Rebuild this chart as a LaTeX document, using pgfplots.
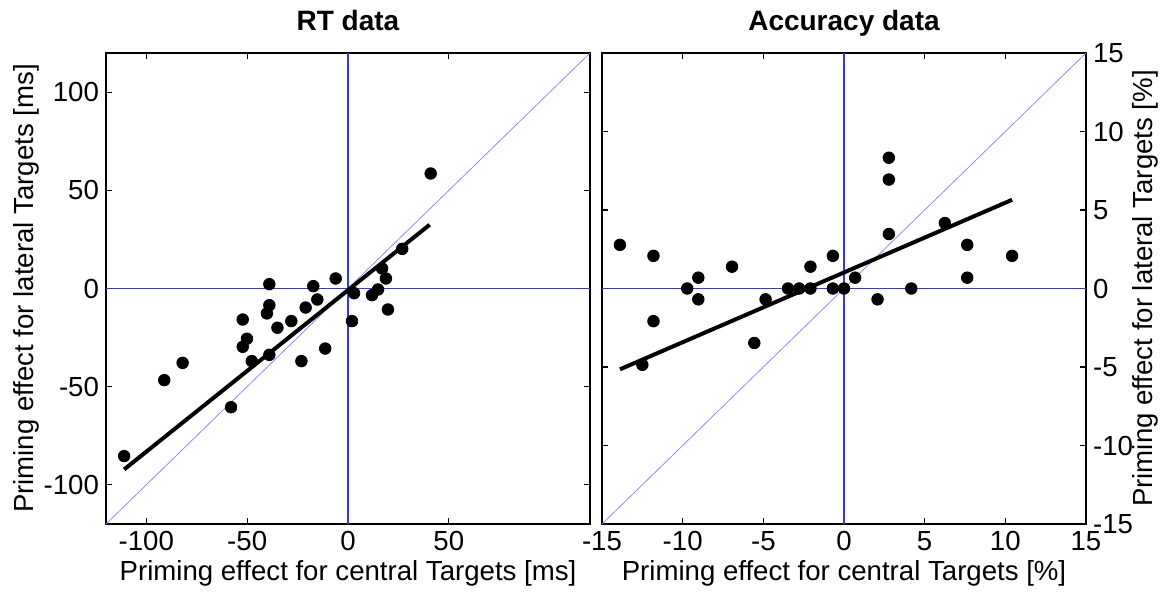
\documentclass[border=0pt]{standalone}
\usepackage{pgfplots}
\pgfplotsset{compat=1.18}
\usepackage{fontspec}
\setmainfont{Liberation Sans}
\pgfplotsset{
  mstyle/.style={
    scale only axis, width=242pt, height=235.5pt,
    axis line style={line width=0.8pt},
    tick style={black, line width=0.6pt},
    major tick length=3pt, tick align=inside,
    /pgf/number format/assume math mode=true,
    font=\fontsize{13.8}{16}\selectfont,
    tick label style={font=\fontsize{13.8}{16}\selectfont},
    label style={font=\fontsize{13.8}{16}\selectfont},
    title style={font=\bfseries\fontsize{14}{16}\selectfont, at={(0.5,1.022)}, anchor=base},
    xlabel style={at={(0.5,-0.121)}, anchor=base},
    clip=true,
  }
}
\pgfplotstableread{
x y
-111 -85.4
-91.1 -46.7
-82 -37.9
-58 -60.5
-52.2 -15.8
-50.1 -25.6
-52.2 -29.7
-47.7 -37
-39 2.2
-39 -8.5
-40.2 -12.7
-35 -20
-39 -33.8
-28.1 -16.6
-23.1 -37
-21 -9.7
-17.2 1.2
-15.2 -5.6
-11.3 -30.6
-6.1 5.1
3 -2.4
2 -16.6
11.9 -3.4
14.9 -0.5
16.9 10.2
18.8 5.1
19.8 -10.7
41 58.6
26.9 20.2
}\rtdata
\pgfplotstableread{
x y
-13.89 2.78
-11.81 2.08
-11.81 -2.08
-12.50 -4.86
-9.72 0
-9.03 0.69
-9.03 -0.69
-6.94 1.39
-5.56 -3.47
-4.86 -0.69
-3.47 0
-2.78 0
-2.08 0
-2.08 1.39
-0.69 2.08
-0.69 0
0 0
0.69 0.69
2.08 -0.69
2.78 8.33
2.78 6.94
2.78 3.47
4.17 0
6.25 4.17
7.64 2.78
7.64 0.69
10.42 2.08
}\accdata
\begin{document}
\begin{tikzpicture}
\useasboundingbox (-53pt,-36pt) rectangle (531.5pt,262pt);
\begin{axis}[mstyle, at={(0pt,0pt)}, anchor=south west,
  xmin=-120, xmax=120, ymin=-120, ymax=120,
  xtick={-100,-50,0,50}, ytick={-100,-50,0,50,100},
  title={RT data},
  xlabel={Priming effect for central Targets [ms]},
  ylabel={Priming effect for lateral Targets [ms]},
  ylabel style={at={(-0.1508,0.5)}, anchor=base},
]
\addplot[blue!80, line width=0.55pt] coordinates {(0,-120) (0,120)};
\addplot[blue!80, line width=0.55pt] coordinates {(-120,0) (120,0)};
\addplot[blue!45, line width=0.4pt] coordinates {(-120,-120) (120,120)};
\addplot[black, line width=2pt] coordinates {(-111,-92.2) (40.5,32.5)};
\addplot[only marks, mark=*, mark size=2.9pt, black] table[x=x,y=y] {\rtdata};
\end{axis}
\begin{axis}[mstyle, at={(248pt,0pt)}, anchor=south west,
  xmin=-15, xmax=15, ymin=-15, ymax=15,
  xtick={-15,-10,-5,0,5,10,15}, ytick={-15,-10,-5,0,5,10,15},
  yticklabel pos=right,
  title={Accuracy data},
  xlabel={Priming effect for central Targets [\%]},
  ylabel={Priming effect for lateral Targets [\%]},
  ylabel style={at={(1.1384,0.5)}, anchor=base, rotate=0},
]
\addplot[blue!80, line width=0.55pt] coordinates {(0,-15) (0,15)};
\addplot[blue!80, line width=0.55pt] coordinates {(-15,0) (15,0)};
\addplot[blue!45, line width=0.4pt] coordinates {(-15,-15) (15,15)};
\addplot[black, line width=2pt] coordinates {(-13.89,-5.15) (10.42,5.65)};
\addplot[only marks, mark=*, mark size=2.9pt, black] table[x=x,y=y] {\accdata};
\end{axis}
\end{tikzpicture}
\end{document}
